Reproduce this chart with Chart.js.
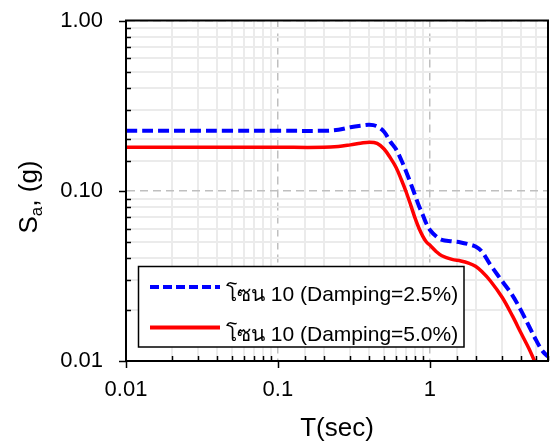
<!DOCTYPE html>
<html>
<head>
<meta charset="utf-8">
<script src="https://cdn.jsdelivr.net/npm/chart.js@4/dist/chart.umd.min.js"></script>
<style>
  html, body { margin: 0; padding: 0; background: #fff; overflow: hidden; }
  #wrap { width: 550px; height: 446px; position: relative; }
  canvas { display: block; }
</style>
</head>
<body>
<div id="wrap"><canvas id="chart"></canvas></div>
<script>
// periods (sec)
const periods = [0.01, 0.05, 0.1, 0.2, 0.25, 0.3, 0.35, 0.4, 0.45, 0.5, 0.55, 0.6, 0.65, 0.7,
  0.75, 0.8, 0.85, 0.9, 0.95, 1.0, 1.1, 1.2, 1.4, 1.6, 1.8, 2.0, 2.2, 2.5, 3.0, 3.5, 4.0,
  4.5, 5.0, 5.5, 6.0];

// Sa (g), damping 2.5%
const sa25 = [0.225, 0.225, 0.225, 0.225, 0.228, 0.236, 0.241, 0.244, 0.239, 0.222, 0.194,
  0.175, 0.151, 0.129, 0.110, 0.094, 0.081, 0.072, 0.064, 0.059, 0.054, 0.0515, 0.0505,
  0.0497, 0.0485, 0.047, 0.044, 0.0368, 0.0294, 0.0243, 0.0197, 0.016, 0.0133, 0.0115, 0.0106];

// Sa (g), damping 5.0%
const sa50 = [0.18, 0.18, 0.18, 0.18, 0.182, 0.186, 0.19, 0.193, 0.19, 0.176, 0.156,
  0.137, 0.116, 0.098, 0.082, 0.069, 0.060, 0.054, 0.050, 0.048, 0.044, 0.0415, 0.0395,
  0.0387, 0.0376, 0.036, 0.0335, 0.0296, 0.0236, 0.0184, 0.0145, 0.0118, 0.0096, 0.0082, 0.0075];

const seriesLabels = ["โซน 10 (Damping=2.5%)", "โซน 10 (Damping=5.0%)"];
const xTickLabels = { "0.01": "0.01", "0.1": "0.1", "1": "1" };
const yTickLabels = { "0.01": "0.01", "0.1": "0.10", "1": "1.00" };

const FONT = "'Liberation Sans', Arial, sans-serif";

function isDecade(v) {
  const l = Math.log10(v);
  return Math.abs(l - Math.round(l)) < 1e-6;
}

function toPoints(ys) {
  return periods.map((t, i) => ({ x: t, y: ys[i] }));
}

// grid style: dashed for inner decades, light solid for the rest
function gridColor(ctx) {
  if (!ctx.tick) return "#000";
  return isDecade(ctx.tick.value) ? "#bfbfbf" : "#ebebeb";
}
function gridWidth(ctx) {
  if (!ctx.tick) return 1;
  return isDecade(ctx.tick.value) ? 1.5 : 2;
}
function gridDash(ctx) {
  if (!ctx.tick) return [];
  return isDecade(ctx.tick.value) ? [8, 5] : [];
}

// keep the plot box where the reference has it
function noScalePadding(s) {
  s.paddingTop = 0;
  s.paddingBottom = 0;
  s.paddingLeft = 0;
  s.paddingRight = 0;
}

const framePlugin = {
  id: "frame",
  afterDraw(chart) {
    const ctx = chart.ctx;
    const a = chart.chartArea;
    ctx.save();
    // box
    ctx.strokeStyle = "#000";
    ctx.lineWidth = 2;
    ctx.strokeRect(a.left, a.top, a.right - a.left, a.bottom - a.top);

    // tick marks: decades outward, others inward
    ctx.lineWidth = 1.5;
    const xs = chart.scales.x;
    xs.ticks.forEach((t) => {
      const px = Math.round(xs.getPixelForValue(t.value)) + 0.5;
      ctx.beginPath();
      if (isDecade(t.value)) {
        ctx.moveTo(px, a.bottom);
        ctx.lineTo(px, a.bottom + 7);
      } else {
        ctx.moveTo(px, a.bottom);
        ctx.lineTo(px, a.bottom - 5);
      }
      ctx.stroke();
    });
    const ys = chart.scales.y;
    ys.ticks.forEach((t) => {
      const py = Math.round(ys.getPixelForValue(t.value)) + 0.5;
      ctx.beginPath();
      if (isDecade(t.value)) {
        ctx.moveTo(a.left, py);
        ctx.lineTo(a.left - 7, py);
      } else {
        ctx.moveTo(a.left, py);
        ctx.lineTo(a.left + 5, py);
      }
      ctx.stroke();
    });

    // legend box
    const lx = 138.5, ly = 266.5, lw = 325.5, lh = 80.5;
    ctx.fillStyle = "#fff";
    ctx.fillRect(lx, ly, lw, lh);
    ctx.lineWidth = 1.5;
    ctx.strokeStyle = "#000";
    ctx.strokeRect(lx, ly, lw, lh);
    chart.data.datasets.forEach((ds, i) => {
      const yy = 287 + i * 40.5;
      ctx.beginPath();
      ctx.strokeStyle = ds.borderColor;
      ctx.lineWidth = 4;
      ctx.setLineDash(ds.borderDash ? [9, 4] : []);
      ctx.moveTo(150, yy);
      ctx.lineTo(220, yy);
      ctx.stroke();
      ctx.setLineDash([]);
      ctx.fillStyle = "#000";
      ctx.font = "21px " + FONT;
      ctx.textBaseline = "middle";
      ctx.textAlign = "left";
      ctx.fillText(ds.label, 226, yy + 8);
    });

    // y axis title with subscript
    ctx.translate(37, 197);
    ctx.rotate(-Math.PI / 2);
    ctx.fillStyle = "#000";
    ctx.textBaseline = "alphabetic";
    ctx.textAlign = "left";
    const big = "26px " + FONT, small = "17px " + FONT;
    ctx.font = big;
    const w1 = ctx.measureText("S").width;
    const w3 = ctx.measureText(", (g)").width;
    ctx.font = small;
    const w2 = ctx.measureText("a").width;
    let x0 = -(w1 + w2 + w3) / 2;
    ctx.font = big;
    ctx.fillText("S", x0, 0);
    ctx.font = small;
    ctx.fillText("a", x0 + w1, 5);
    ctx.font = big;
    ctx.fillText(", (g)", x0 + w1 + w2, 0);
    ctx.restore();
  },
};

new Chart(document.getElementById("chart"), {
  type: "line",
  data: {
    datasets: [
      {
        label: seriesLabels[0],
        data: toPoints(sa25),
        borderColor: "#0000ff",
        borderWidth: 4,
        borderDash: [11, 5],
        pointRadius: 0,
        tension: 0.35,
        fill: false,
      },
      {
        label: seriesLabels[1],
        data: toPoints(sa50),
        borderColor: "#ff0000",
        borderWidth: 3.5,
        pointRadius: 0,
        tension: 0.35,
        fill: false,
      },
    ],
  },
  options: {
    responsive: true,
    maintainAspectRatio: false,
    animation: false,
    layout: { padding: { left: 0, right: 2, top: 20.5, bottom: 0 } },
    plugins: {
      legend: { display: false },
      tooltip: { enabled: false },
    },
    scales: {
      x: {
        type: "logarithmic",
        min: 0.01,
        max: 6,
        afterFit: (s) => { s.height = 85; noScalePadding(s); },
        grid: { color: gridColor, lineWidth: gridWidth, drawTicks: false },
        border: { color: "#000", width: 2, dash: gridDash },
        ticks: {
          autoSkip: false,
          maxRotation: 0,
          padding: 16,
          color: "#000",
          font: { family: FONT, size: 22 },
          callback: (v) => xTickLabels[String(+v)] || "",
        },
        title: {
          display: true,
          text: "T(sec)",
          color: "#000",
          font: { family: FONT, size: 26 },
          padding: { top: 0, bottom: 2 },
        },
      },
      y: {
        type: "logarithmic",
        min: 0.01,
        max: 1,
        afterFit: (s) => { s.width = 126; noScalePadding(s); },
        grid: { color: gridColor, lineWidth: gridWidth, drawTicks: false },
        border: { color: "#000", width: 2, dash: gridDash },
        ticks: {
          autoSkip: false,
          padding: 23,
          color: "#000",
          font: { family: FONT, size: 22 },
          callback: (v) => yTickLabels[String(+v)] || "",
        },
      },
    },
  },
  plugins: [framePlugin],
});
</script>
</body>
</html>
